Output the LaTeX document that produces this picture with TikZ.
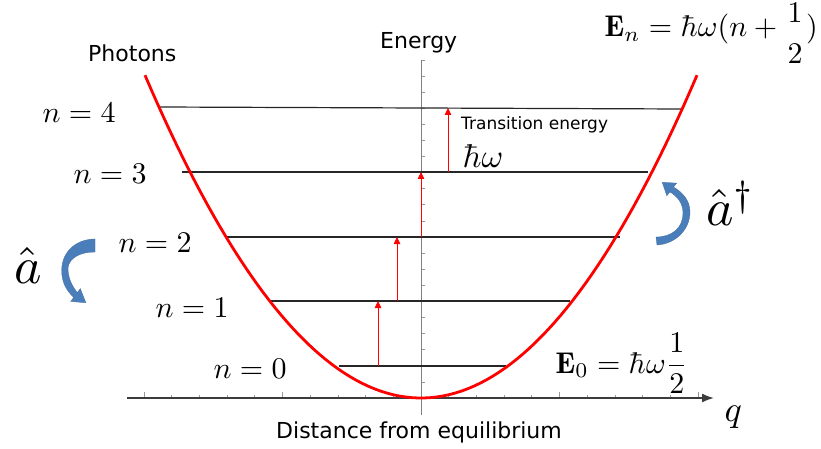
\documentclass[tikz,border=0pt]{standalone}
\usepackage{amsmath}
\usepackage{fontspec}
\newfontfamily\dejavu{DejaVu Sans}
\usepackage{tikz}
\usetikzlibrary{arrows.meta, calc}
\definecolor{opblue}{RGB}{74,126,187}
\definecolor{axgray}{RGB}{60,60,60}

\begin{document}
\begin{tikzpicture}[x=1pt, y=-1pt,
          lvl/.style={line width=1.2pt, black!85},
          trans/.style={-{Triangle[length=7pt, width=6.5pt]}, red, line width=0.8pt},
          well/.style={red, line width=2.8pt},
          axis/.style={axgray, line width=1.8pt, -{Latex[length=12pt, width=9pt]}},
          vaxis/.style={gray, line width=0.8pt},
          tick/.style={gray!80, line width=0.7pt},
          mlbl/.style={font=\normalsize, scale=3, inner sep=0pt, anchor=base west},
          slbl/.style={font=\dejavu\fontsize{22}{26}\selectfont, inner sep=0pt, anchor=base west},
          oplbl/.style={font=\normalsize, scale=5.2, inner sep=0pt, anchor=base west},
          bluearr/.style={fill=opblue, draw=opblue!85!black, line width=0.3pt}
        ]
        \useasboundingbox (0,0) rectangle (821,449);
        \coordinate (xl) at (127,398);
        \coordinate (xr) at (714,398);
        \coordinate (yt) at (421,60);
        \coordinate (yb) at (421,415);
        \coordinate (n0l) at (339,366);
        \coordinate (n0r) at (506,366);
        \coordinate (n1l) at (270,301);
        \coordinate (n1r) at (570,301);
        \coordinate (n2l) at (227,237);
        \coordinate (n2r) at (620,237);
        \coordinate (n3l) at (182,172);
        \coordinate (n3r) at (648,172);
        \coordinate (n4l) at (160,107);
        \coordinate (n4r) at (683,109);
        \coordinate (a0) at (378,366);
        \coordinate (a1) at (378,301);
        \coordinate (b1) at (397,301);
        \coordinate (b2) at (397,237);
        \coordinate (c2) at (421,237);
        \coordinate (c3) at (421,172);
        \coordinate (d3) at (448,172);
        \coordinate (d4) at (448,108);
        \foreach \k in {-10,...,10}
          \draw[tick] (421+27.7*\k,398) -- ++(0,-3);
        \foreach \k in {-10,-5,5,10}
          \draw[tick] (421+27.7*\k,398) -- ++(0,-6);
        \foreach \k in {1,...,21}
          \draw[tick] (421,398-16.1*\k) -- ++(4,0);
        \draw[vaxis] (yb) -- (yt);
        \draw[axis] (xl) -- (xr);
        \draw[lvl] (n0l) -- (n0r);
        \draw[lvl] (n1l) -- (n1r);
        \draw[lvl] (n2l) -- (n2r);
        \draw[lvl] (n3l) -- (n3r);
        \draw[lvl] (n4l) -- (n4r);
        \draw[well] plot[domain=145:697, samples=90] (\x, {398-((\x-421)/15.362)^2});
        \draw[trans] (a0) -- (a1);
        \draw[trans] (b1) -- (b2);
        \draw[trans] (c2) -- (c3);
        \draw[trans] (d3) -- (d4);
        \fill[bluearr] (95,239) .. controls (78,239) and (62,250) .. (61.7,270) .. controls (61.5,283) and (67,291) .. (73.7,297.4) -- (70.7,301.4) -- (85.9,302.8) -- (80.3,288.6) -- (77.3,292.6) .. controls (72,286) and (68,278) .. (68,268) .. controls (69,258) and (80,252) .. (95,252) -- cycle;
        \fill[bluearr] (657,245) .. controls (675,244) and (690,230) .. (690,212) .. controls (690,200) and (682,192) .. (673.5,187.1) -- (676.6,183.2) -- (662.2,182.2) -- (666.8,195.8) -- (669.9,191.9) .. controls (677,196) and (683,203) .. (683,213) .. controls (683,228) and (672,237) .. (656,237) -- cycle;
        \node[slbl] (photons) at (88,62) {Photons};
        \node[slbl] (energy) at (380,49) {Energy};
        \node[slbl, font=\dejavu\fontsize{17}{20}\selectfont] (translbl) at (461,130) {Transition energy};
        \node[mlbl, scale=1.1] (hw) at (462,167) {$\hbar\omega$};
        \node[slbl] (dist) at (276,438) {Distance from equilibrium};
        \node[mlbl] (lbl4) at (42,123) {$n=4$};
        \node[mlbl] (lbl3) at (73,183) {$n=3$};
        \node[mlbl] (lbl2) at (118,252) {$n=2$};
        \node[mlbl] (lbl1) at (155,317) {$n=1$};
        \node[mlbl] (lbl0) at (213,378) {$n=0$};
        \node[mlbl] (en) at (604,37) {$\mathbf{E}_n=\hbar\omega(n+\raisebox{-2pt}{$\displaystyle\genfrac{}{}{0pt}{0}{1}{2}$})$};
        \node[mlbl] (ezero) at (555,373) {$\mathbf{E}_0=\hbar\omega\dfrac{1}{2}$};
        \node[mlbl, scale=1.2] (qlbl) at (724,421) {$q$};
        \node[oplbl] (ann) at (13,283) {$\hat{a}$};
        \node[oplbl] (cre) at (705,225) {$\hat{a}^\dagger$};
        \end{tikzpicture}
\end{document}
